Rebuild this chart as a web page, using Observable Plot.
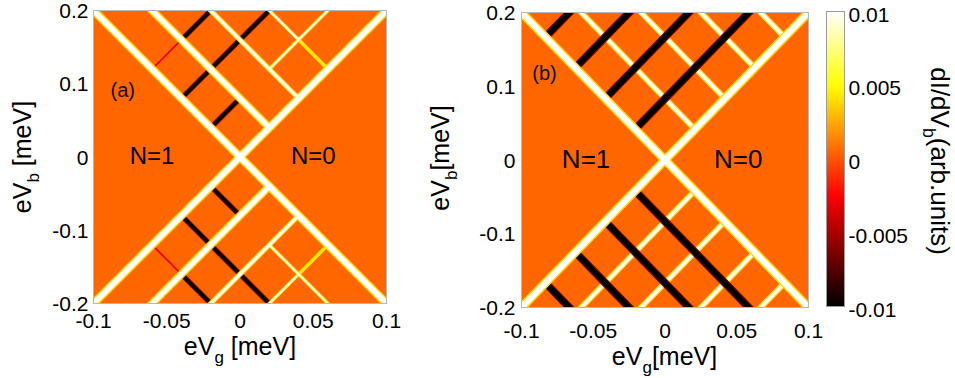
<!DOCTYPE html>
<html>
<head>
<meta charset="utf-8">
<script src="https://cdn.jsdelivr.net/npm/d3@7"></script>
<script src="https://cdn.jsdelivr.net/npm/@observablehq/plot@0.6"></script>
<style>
  html, body { margin: 0; padding: 0; background: #fff; }
  #figure { position: relative; width: 955px; height: 378px; overflow: hidden; background: #fff; }
  #figure svg { position: absolute; top: 0; overflow: visible; }
</style>
</head>
<body>
<div id="figure"></div>
<script>
// ---- axes (meV) ----
const gateDomain = [-0.1, 0.1];
const biasDomain = [-0.2, 0.2];
const gateTicks = [-0.1, -0.05, 0, 0.05, 0.1];
const biasTicks = [-0.2, -0.1, 0, 0.1, 0.2];
const levelDomain = [-0.01, 0.01];
const levelTicks = [-0.01, -0.005, 0, 0.005, 0.01];
const backgroundLevel = 0.0005;

// ---- resonance lines: [slope, offset, eV_g from, eV_g to, dI/dV level]
// each line is eV_b = slope * eV_g + offset
// panel (a)
const aEdge = [
  [-2, 0, -0.1, 0.1, 0.01],
  [2, 0, -0.1, 0.1, 0.01]
];
const aStrong = [
  [-2, 0.08, -0.06, 0.02, 0.01],
  [2, -0.08, -0.06, 0.02, 0.01]
];
const aMedium = [
  [-2, 0.16, -0.02, 0.04, 0.01],
  [2, -0.16, -0.02, 0.04, 0.01]
];
const aWeak = [
  [-2, 0.24, 0.02, 0.04, 0.0095],
  [-2, 0.24, 0.04, 0.06, 0.0045],
  [2, 0.08, 0.02, 0.06, 0.0095],
  [2, -0.24, 0.02, 0.04, 0.0095],
  [2, -0.24, 0.04, 0.06, 0.0045],
  [-2, -0.08, 0.02, 0.06, 0.0095]
];
const aDark = [
  [2, 0.08, -0.02, 0, -0.01],
  [2, 0.16, -0.04, 0.02, -0.01],
  [2, 0.24, -0.04, -0.02, -0.01],
  [-2, -0.08, -0.02, 0, -0.01],
  [-2, -0.16, -0.04, 0.02, -0.01],
  [-2, -0.24, -0.04, -0.02, -0.01]
];
const aFaint = [
  [2, 0.24, -0.06, -0.04, -0.003],
  [-2, -0.24, -0.06, -0.04, -0.003]
];

// panel (b)
const bEdge = [
  [-2, 0, -0.1, 0.1, 0.01],
  [2, 0, -0.1, 0.1, 0.01]
];
const bMedium = [
  [-2, 0.0833, -0.0583, 0.0208, 0.01],
  [-2, 0.1667, -0.0167, 0.0417, 0.01],
  [-2, 0.25, 0.025, 0.0625, 0.01],
  [-2, 0.3333, 0.0667, 0.0833, 0.01],
  [2, -0.0833, -0.0583, 0.0208, 0.01],
  [2, -0.1667, -0.0167, 0.0417, 0.01],
  [2, -0.25, 0.025, 0.0625, 0.01],
  [2, -0.3333, 0.0667, 0.0833, 0.01]
];
const bDark = [
  [2, 0.0833, -0.0208, 0.0583, -0.01],
  [2, 0.1667, -0.0417, 0.0167, -0.01],
  [2, 0.25, -0.0625, -0.025, -0.01],
  [2, 0.3333, -0.0833, -0.0667, -0.01],
  [-2, -0.0833, -0.0208, 0.0583, -0.01],
  [-2, -0.1667, -0.0417, 0.0167, -0.01],
  [-2, -0.25, -0.0625, -0.025, -0.01],
  [-2, -0.3333, -0.0833, -0.0667, -0.01]
];

// ---- text ----
const aLetter = ["(a)"];
const bLetter = ["(b)"];
const regionLabels = ["N=1", "N=0"];
const xLabelA = [["eV", false], ["g", true], [" [meV]", false]];
const yLabelA = [["eV", false], ["b", true], [" [meV]", false]];
const xLabelB = [["eV", false], ["g", true], ["[meV]", false]];
const yLabelB = [["eV", false], ["b", true], ["[meV]", false]];
const barLabel = [["dI/dV", false], ["b", true], ["(arb.units)", false]];

// ---- drawing ----
const font = '"Liberation Sans", Arial, Helvetica, sans-serif';
const tickFont = 21;
const hot = () => ({
  type: "linear",
  domain: [-0.01, -0.0025, 0.005, 0.01],
  range: ["#000000", "#ff0000", "#ffff00", "#ffffff"],
  interpolate: "rgb",
  clamp: true
});
const fringeLevel = {white: 0.004, dark: -0.006};
const fmt = d => String(d);
const figure = document.getElementById("figure");

function toLinks(rows) {
  return rows.map(([slope, offset, from, to, level]) => ({
    level,
    x1: from, x2: to,
    y1: slope * from + offset,
    y2: slope * to + offset
  }));
}

function layer(links, width, stroke) {
  return Plot.link(links, {
    x1: "x1", y1: "y1", x2: "x2", y2: "y2",
    stroke, strokeWidth: width, strokeLinecap: "square", clip: true
  });
}

// enlarge axis tick labels (Plot defaults them to the svg font size)
function sizeTicks(svg) {
  d3.select(svg).selectAll("g[aria-label*='tick label']")
    .attr("font-size", tickFont)
    .style("font-size", tickFont + "px")
    .selectAll("text")
    .style("font-size", tickFont + "px");
}

function addLabel(svg, {x, y, rotate, size, parts}) {
  const t = d3.select(svg).append("text")
    .attr("transform", `translate(${x},${y}) rotate(${rotate})`)
    .attr("text-anchor", "middle")
    .attr("font-family", font)
    .attr("font-size", size)
    .attr("fill", "black");
  let shifted = 0;
  for (const [s, sub] of parts) {
    const span = t.append("tspan").text(s);
    const target = sub ? size * 0.32 : 0;
    if (target !== shifted) span.attr("dy", target - shifted);
    if (sub) span.attr("font-size", size * 0.68);
    shifted = target;
  }
}

function panel({groups, order, widths, left, width, margins, padX, padY, letter, letterAt, letterSize, regionsAt, regionSize}) {
  const layers = order.map(([kind, part]) => {
    const links = toLinks(groups[kind]);
    const [core, fringe] = widths[kind];
    if (part === "fringe") {
      const lvl = kind === "dark" || kind === "faint" ? fringeLevel.dark : fringeLevel.white;
      return layer(links, fringe, () => lvl);
    }
    return layer(links, core, "level");
  });
  const svg = Plot.plot({
    width, height: 378,
    marginLeft: margins[0], marginRight: margins[1], marginTop: margins[2], marginBottom: margins[3],
    style: {fontFamily: font, fontSize: tickFont + "px", color: "black", background: "transparent"},
    x: {domain: gateDomain, label: null},
    y: {domain: biasDomain, label: null},
    color: hot(),
    marks: [
      Plot.rect([backgroundLevel], {
        x1: () => gateDomain[0], x2: () => gateDomain[1],
        y1: () => biasDomain[0], y2: () => biasDomain[1],
        fill: d => d
      }),
      ...layers,
      Plot.frame({stroke: "#b8b8b8", strokeWidth: 1}),
      Plot.axisX({ticks: gateTicks, tickFormat: fmt, tickSize: 0, tickPadding: padX, fontSize: tickFont, label: null}),
      Plot.axisY({ticks: biasTicks, tickFormat: fmt, tickSize: 0, tickPadding: padY, dy: 1, fontSize: tickFont, label: null}),
      Plot.text(letter, {x: () => letterAt[0], y: () => letterAt[1], text: d => d, fontSize: letterSize, fill: "#111"}),
      Plot.text(regionLabels, {
        x: (d, i) => regionsAt[i][0], y: (d, i) => regionsAt[i][1],
        text: d => d, fontSize: regionSize, fill: "black"
      })
    ]
  });
  sizeTicks(svg);
  svg.style.left = left + "px";
  figure.appendChild(svg);
  return svg;
}

// panel (a)
const svgA = panel({
  groups: {edge: aEdge, strong: aStrong, medium: aMedium, weak: aWeak, dark: aDark, faint: aFaint},
  order: [
    ["faint", "core"], ["dark", "fringe"], ["dark", "core"],
    ["weak", "fringe"], ["medium", "fringe"], ["strong", "fringe"], ["edge", "fringe"],
    ["weak", "core"], ["medium", "core"], ["strong", "core"], ["edge", "core"]
  ],
  widths: {edge: [5.5, 8.5], strong: [5, 8], medium: [3, 5.2], weak: [2, 3.6], dark: [3.5, 5.2], faint: [1.8, 0]},
  left: 0, width: 400, margins: [93, 14, 10, 75], padX: 10, padY: 5,
  letter: aLetter, letterAt: [-0.08, 0.09], letterSize: 20,
  regionsAt: [[-0.06, 0.001], [0.05, 0.001]], regionSize: 24
});
addLabel(svgA, {x: 31, y: 157, rotate: -90, size: 25, parts: yLabelA});
addLabel(svgA, {x: 240, y: 355, rotate: 0, size: 25, parts: xLabelA});

// panel (b)
const svgB = panel({
  groups: {edge: bEdge, medium: bMedium, dark: bDark},
  order: [
    ["medium", "fringe"], ["medium", "core"],
    ["dark", "fringe"], ["dark", "core"],
    ["edge", "fringe"], ["edge", "core"]
  ],
  widths: {edge: [6, 9], medium: [3.5, 6], dark: [6, 8]},
  left: 400, width: 420, margins: [121, 12, 12, 71], padX: 16, padY: 6,
  letter: bLetter, letterAt: [-0.084, 0.117], letterSize: 20,
  regionsAt: [[-0.055, 0], [0.051, 0]], regionSize: 26
});
addLabel(svgB, {x: 49, y: 158, rotate: -90, size: 25, parts: yLabelB});
addLabel(svgB, {x: 264.5, y: 365, rotate: 0, size: 25, parts: xLabelB});

// colour bar
const bar = Plot.plot({
  width: 135, height: 378,
  marginLeft: 6, marginRight: 111, marginTop: 11, marginBottom: 72,
  style: {fontFamily: font, fontSize: tickFont + "px", color: "black", background: "transparent"},
  x: {domain: [0, 1], axis: null},
  y: {domain: levelDomain, label: null},
  color: hot(),
  marks: [
    Plot.raster({x1: 0, x2: 1, y1: levelDomain[0], y2: levelDomain[1], width: 1, height: 295, fill: (x, y) => y}),
    Plot.frame({stroke: "#9a9a9a", strokeWidth: 1}),
    Plot.axisY({anchor: "right", ticks: levelTicks, tickFormat: fmt, tickSize: 0, tickPadding: 4, dy: 3.5, fontSize: tickFont, label: null})
  ]
});
sizeTicks(bar);
bar.style.left = "820px";
figure.appendChild(bar);
addLabel(bar, {x: 111, y: 161, rotate: 90, size: 26, parts: barLabel});
</script>
</body>
</html>
